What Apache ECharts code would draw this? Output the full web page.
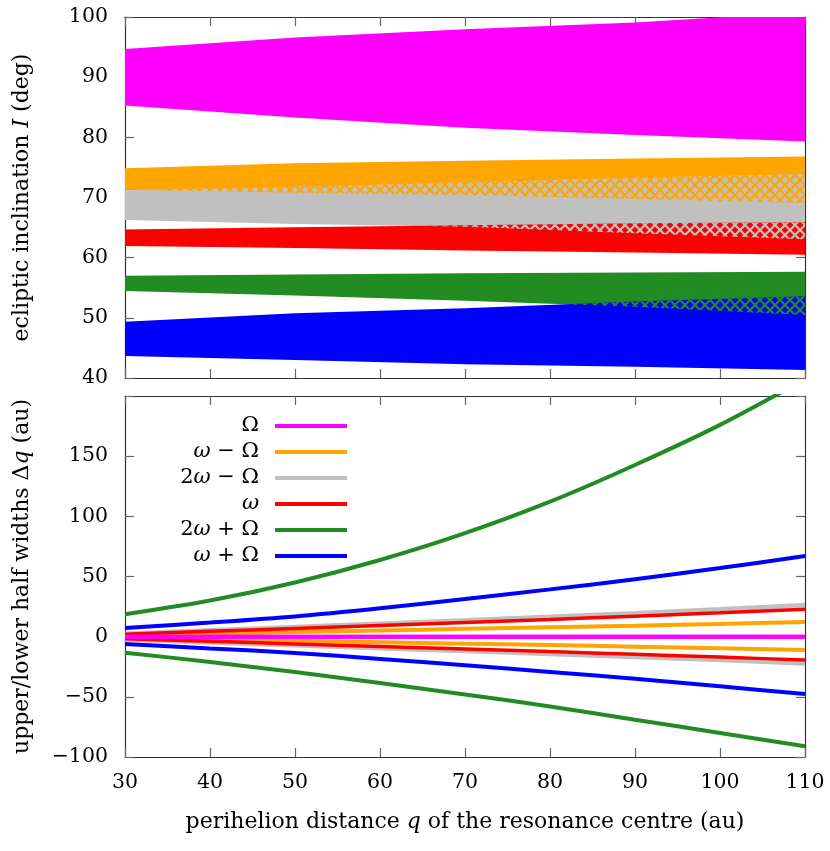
<!DOCTYPE html>
<html>
<head>
<meta charset="utf-8">
<script src="https://cdn.jsdelivr.net/npm/echarts@6/dist/echarts.min.js"></script>
<style>
  html, body { margin: 0; padding: 0; background: #fff; }
  #chart { width: 830px; height: 851px; }
</style>
</head>
<body>
<div id="chart"></div>
<script>
// top panel: inclination bands (deg), sampled at qBand (au)
const qBand = [30, 50, 70, 90, 110];
const incOmUp = [94.7, 96.6, 97.95, 99.1, 100.8];
const incOmLo = [85.3, 83.3, 81.6, 80.4, 79.3];
const incWmOUp = [74.85, 75.7, 76.1, 76.5, 76.8];
const incWmOLo = [71.25, 70.8, 70.4, 69.75, 69.1];
const inc2WmOUp = [71.2, 71.8, 72.5, 73.3, 73.9];
const inc2WmOLo = [66.26, 65.6, 65.15, 64.05, 63.05];
const incWUp = [64.7, 65.05, 65.4, 65.7, 65.9];
const incWLo = [61.95, 61.6, 61.2, 60.85, 60.5];
const inc2WpOUp = [57.0, 57.2, 57.4, 57.55, 57.67];
const inc2WpOLo = [54.46, 53.7, 52.85, 51.85, 50.47];
const incWpOUp = [49.36, 50.75, 51.6, 52.7, 53.6];
const incWpOLo = [43.66, 43.0, 42.3, 41.88, 41.33];

// bottom panel: upper/lower half widths (au), sampled at qLine
const qLine = [30, 40, 50, 60, 70, 80, 90, 100, 110];
const dqOmUp = [0, 0, 0, 0, 0, 0, 0, 0, 0];
const dqOmLo = [0, 0, 0, 0, 0, 0, 0, 0, 0];
const dqWmOUp = [1.2, 2.5, 3.8, 5.1, 6.5, 7.8, 9.1, 10.6, 12.2];
const dqWmOLo = [-1.0, -2.2, -3.4, -4.6, -5.8, -7.0, -8.3, -9.6, -11.1];
const dq2WmOUp = [2.5, 5.3, 8.0, 10.8, 13.6, 16.5, 19.5, 22.8, 26.3];
const dq2WmOLo = [-2.3, -4.8, -7.2, -9.6, -12.0, -14.5, -17.0, -19.4, -22.2];
const dqWUp = [2.0, 4.4, 6.8, 9.3, 11.8, 14.3, 17.0, 19.8, 22.7];
const dqWLo = [-1.8, -3.9, -6.0, -8.1, -10.2, -12.4, -14.6, -17.0, -19.4];
const dq2WpOUp = [18.6, 30.0, 45, 63.7, 86, 112.2, 142.7, 176, 214];
const dq2WpOLo = [-13.3, -21, -29.4, -38.5, -48, -58, -69, -80, -91];
const dqWpOUp = [7.2, 11.7, 16.8, 23.6, 31.3, 39.3, 47.7, 57, 67];
const dqWpOLo = [-6, -9.8, -13.5, -18.5, -23.8, -29.3, -35, -41.3, -47.7];

const xTicks = [30, 40, 50, 60, 70, 80, 90, 100, 110];
const incTicks = [40, 50, 60, 70, 80, 90, 100];
const dqTicks = [-100, -50, 0, 50, 100, 150, 200];

const legendNames = ['Ω', 'ω − Ω', '2ω − Ω', 'ω', '2ω + Ω', 'ω + Ω'];
const legendLabels = {
  'Ω': 'Ω',
  'ω − Ω': '{i|ω} − Ω',
  '2ω − Ω': '2{i|ω} − Ω',
  'ω': '{i|ω}',
  '2ω + Ω': '2{i|ω} + Ω',
  'ω + Ω': '{i|ω} + Ω'
};

const C = {
  om: '#ff00ff', wmo: '#ffa500', twmo: '#c0c0c0',
  w: '#ff0000', twpo: '#228b22', wpo: '#0000ff'
};
const FONT = 'DejaVu Serif';

function hatch(color) {
  const c = document.createElement('canvas');
  c.width = 10; c.height = 10;
  const ctx = c.getContext('2d');
  ctx.strokeStyle = color;
  ctx.lineWidth = 2.2;
  ctx.beginPath();
  ctx.moveTo(0, 0); ctx.lineTo(10, 10);
  ctx.moveTo(10, 0); ctx.lineTo(0, 10);
  ctx.stroke();
  return { image: c, repeat: 'repeat' };
}

// polygon series on the top grid: xs with top/bottom edges
function polySeries(xs, tops, bots, fill, z) {
  return {
    type: 'custom', xAxisIndex: 0, yAxisIndex: 0, z: z, silent: true, clip: true,
    data: [[xs[0], bots[0]]],
    renderItem: function (params, api) {
      const pts = [];
      for (let i = 0; i < xs.length; i++) pts.push(api.coord([xs[i], tops[i]]));
      for (let i = xs.length - 1; i >= 0; i--) pts.push(api.coord([xs[i], bots[i]]));
      return { type: 'polygon', shape: { points: pts }, style: { fill: fill } };
    }
  };
}

// intersection of two bands (where they overlap)
function overlap(upA, loA, upB, loB) {
  const xs = [], tops = [], bots = [];
  let pt = null, pb = null, px = null;
  for (let i = 0; i < qBand.length; i++) {
    const t = Math.min(upA[i], upB[i]);
    const b = Math.max(loA[i], loB[i]);
    if (i > 0) {
      const d0 = pt - pb, d1 = t - b;
      if ((d0 < 0 && d1 > 0) || (d0 > 0 && d1 < 0)) {
        const f = d0 / (d0 - d1);
        const xc = px + f * (qBand[i] - px);
        const yc = pb + f * (b - pb);
        xs.push(xc); tops.push(yc); bots.push(yc);
      }
    }
    xs.push(qBand[i]); tops.push(Math.max(t, b)); bots.push(b);
    pt = t; pb = b; px = qBand[i];
  }
  return { xs: xs, tops: tops, bots: bots };
}

const series = [];
series.push(polySeries(qBand, incOmUp, incOmLo, C.om, 1));
series.push(polySeries(qBand, incWmOUp, incWmOLo, C.wmo, 2));
series.push(polySeries(qBand, inc2WmOUp, inc2WmOLo, C.twmo, 3));
let ov = overlap(incWmOUp, incWmOLo, inc2WmOUp, inc2WmOLo);
series.push(polySeries(ov.xs, ov.tops, ov.bots, hatch(C.wmo), 4));
series.push(polySeries(qBand, incWUp, incWLo, C.w, 5));
ov = overlap(inc2WmOUp, inc2WmOLo, incWUp, incWLo);
series.push(polySeries(ov.xs, ov.tops, ov.bots, hatch(C.twmo), 6));
series.push(polySeries(qBand, inc2WpOUp, inc2WpOLo, C.twpo, 7));
series.push(polySeries(qBand, incWpOUp, incWpOLo, C.wpo, 8));
ov = overlap(inc2WpOUp, inc2WpOLo, incWpOUp, incWpOLo);
series.push(polySeries(ov.xs, ov.tops, ov.bots, hatch(C.twpo), 9));

function lineSeries(name, vals, color, z, width) {
  return {
    type: 'line', name: name, xAxisIndex: 2, yAxisIndex: 2, z: z,
    data: qLine.map((q, i) => [q, vals[i]]),
    showSymbol: false, symbol: 'none', smooth: 0.3, silent: true,
    color: color, lineStyle: { width: width || 4, color: color }
  };
}
series.push(lineSeries('2ω − Ω', dq2WmOUp, C.twmo, 2, 4.5));
series.push(lineSeries('2ω − Ω', dq2WmOLo, C.twmo, 2, 4.5));
series.push(lineSeries('ω − Ω', dqWmOUp, C.wmo, 3));
series.push(lineSeries('ω − Ω', dqWmOLo, C.wmo, 3));
series.push(lineSeries('ω', dqWUp, C.w, 4, 3.5));
series.push(lineSeries('ω', dqWLo, C.w, 4, 3.5));
series.push(lineSeries('Ω', dqOmUp, C.om, 5));
series.push(lineSeries('Ω', dqOmLo, C.om, 5));
series.push(lineSeries('ω + Ω', dqWpOUp, C.wpo, 6));
series.push(lineSeries('ω + Ω', dqWpOLo, C.wpo, 6));
series.push(lineSeries('2ω + Ω', dq2WpOUp, C.twpo, 7));
series.push(lineSeries('2ω + Ω', dq2WpOLo, C.twpo, 7));

const labelStyle = { fontFamily: FONT, fontSize: 20.5, color: '#000' };
const nameStyle = { fontFamily: FONT, fontSize: 22, color: '#000',
  rich: { i: { fontFamily: FONT, fontSize: 22, fontStyle: 'italic' } } };

function xAx(grid, pos, showLabels) {
  return {
    type: 'value', gridIndex: grid, position: pos,
    min: xTicks[0], max: xTicks[xTicks.length - 1], interval: xTicks[1] - xTicks[0],
    axisLine: { show: true, onZero: false, lineStyle: { color: '#333', width: 1.2 } },
    axisTick: { show: true, inside: true, length: 9, lineStyle: { color: '#666', width: 1.2 } },
    axisLabel: Object.assign({ show: showLabels, margin: 15 }, labelStyle),
    splitLine: { show: false }
  };
}
function yAx(grid, pos, ticks, showLabels, fmt) {
  return {
    type: 'value', gridIndex: grid, position: pos,
    min: ticks[0], max: ticks[ticks.length - 1], interval: ticks[1] - ticks[0],
    axisLine: { show: true, onZero: false, lineStyle: { color: '#333', width: 1.2 } },
    axisTick: { show: true, inside: true, length: 9, lineStyle: { color: '#666', width: 1.2 } },
    axisLabel: Object.assign({ show: showLabels, margin: 17, formatter: fmt }, labelStyle),
    splitLine: { show: false }
  };
}

const xAxes = [xAx(0, 'bottom', false), xAx(0, 'top', false), xAx(1, 'bottom', true), xAx(1, 'top', false)];
Object.assign(xAxes[2], {
  name: 'perihelion distance {i|q} of the resonance centre (au)',
  nameLocation: 'middle', nameGap: 54, nameTextStyle: nameStyle
});

const yAxes = [
  yAx(0, 'left', incTicks, true, v => String(v)),
  yAx(0, 'right', incTicks, false),
  yAx(1, 'left', dqTicks, true, v => v === 200 ? '' : String(v).replace('-', '−')),
  yAx(1, 'right', dqTicks, false)
];
Object.assign(yAxes[0], {
  name: 'ecliptic inclination {i|I} (deg)',
  nameLocation: 'middle', nameGap: 92, nameRotate: 90, nameTextStyle: nameStyle
});
Object.assign(yAxes[2], {
  name: 'upper/lower half widths Δ{i|q} (au)',
  nameLocation: 'middle', nameGap: 92, nameRotate: 90, nameTextStyle: nameStyle
});

const chart = echarts.init(document.getElementById('chart'), null, { renderer: 'canvas' });
chart.setOption({
  animation: false,
  backgroundColor: '#fff',
  grid: [
    { left: 125, right: 25, top: 17, height: 361 },
    { left: 125, right: 25, top: 396, height: 361 }
  ],
  xAxis: xAxes,
  yAxis: yAxes,
  legend: {
    data: legendNames, orient: 'vertical', align: 'right',
    right: 483, top: 414, padding: 0,
    itemWidth: 72, itemHeight: 4, itemGap: 2, icon: 'rect', selectedMode: false,
    formatter: n => legendLabels[n],
    textStyle: { fontFamily: FONT, fontSize: 21, color: '#000', lineHeight: 24, padding: [0, 11, 0, 0],
      rich: { i: { fontFamily: FONT, fontSize: 21, fontStyle: 'italic', lineHeight: 24 } } }
  },
  series: series
});
</script>
</body>
</html>
